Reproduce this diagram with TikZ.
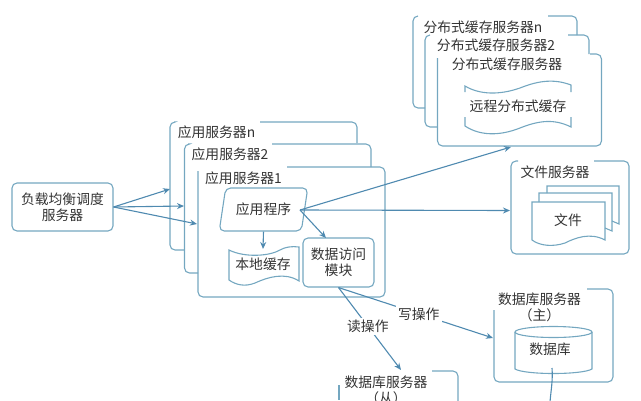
\documentclass[tikz,border=0pt]{standalone}
\usepackage{xcolor}
\usepackage{fontspec}
\setmainfont{Noto Sans CJK SC}
\definecolor{pale-line}{HTML}{74A7C0}
\definecolor{deep-line}{HTML}{4F8AB0}
\definecolor{ink}{HTML}{333333}
\usetikzlibrary{shapes.geometric}
\usetikzlibrary{arrows.meta}
\tikzset{box/.style = {draw=pale-line, rounded corners=5pt, line width=1.1pt, align=center, text centered, text=ink}}
\tikzset{txt/.style = {align=center, inner sep=0pt, text=ink}}
\tikzset{frame/.style = {draw=pale-line, line width=1.1pt, rounded corners=5pt}}
\tikzset{sheet/.style = {draw=pale-line, line width=1.1pt}}
\tikzset{arr/.style = {draw=deep-line, line width=1.1pt, -{Stealth[length=7pt, width=6pt]}}}

\begin{document}
\begin{tikzpicture}[x=1pt, y=-1pt,
  font=\fontsize{13.8}{16}\selectfont
]
\useasboundingbox (0,0) rectangle (641,400);
\clip (0,0) rectangle (641,400);

% load balancer and application servers
\node[box, minimum width=101pt, minimum height=48pt, inner sep=0pt] (lb) at (62.5,207) {负载均衡调度\\服务器};

\draw[frame] (174,122) -- (170,122) -- (170,250) -- (184,250);
\draw[frame] (260,122) -- (357,122) -- (357,143);
\node[txt] (appn) at (216.5,132) {应用服务器n};
\draw[frame] (188,144) -- (184.5,144) -- (184.5,273) -- (198,273);
\draw[frame] (272,144) -- (371,144) -- (371,167);
\node[txt] (app2) at (230,154) {应用服务器2};
\draw[frame] (198,171) -- (198,297) -- (385,297) -- (385,167) -- (287,167);
\node[txt] (app1) at (243.5,178) {应用服务器1};

\node[box, trapezium, trapezium left angle=70, trapezium right angle=110, trapezium stretches=true,
  minimum width=89pt, minimum height=43pt, inner sep=0pt] (prog) at (263.5,209.5) {应用程序};
\draw[sheet] (229,250) .. controls (245,258) and (270,256) .. (280,250)
  .. controls (285,247) and (292,246) .. (299,247) -- (299,281)
  .. controls (285,272) and (268,277) .. (255,283)
  .. controls (245,287) and (236,285) .. (229,280) -- cycle;
\node[txt] (local) at (263,264) {本地缓存};
\node[box, minimum width=71pt, minimum height=49pt, inner sep=0pt] (access) at (338.5,262.5) {数据访问\\模块};

% remote cache servers
\draw[frame] (418,16) -- (413,16) -- (413,108) -- (425,108);
\draw[frame] (548,16) -- (577,16) -- (577,35);
\node[txt] (cachen) at (483,27) {分布式缓存服务器n};
\draw[frame] (430,35) -- (425,35) -- (425,127) -- (437.5,127);
\draw[frame] (568,35) -- (589,35) -- (589,54);
\node[txt] (cache2) at (496,45) {分布式缓存服务器2};
\draw[frame] (437.5,58) -- (437.5,146) -- (601.5,146) -- (601.5,54) -- (590,54);
\node[txt] (cache1) at (507,64) {分布式缓存服务器};
\draw[sheet] (465,92) -- (465,86) .. controls (480,95) and (500,95) .. (520,88)
  .. controls (540,80) and (555,79) .. (571,85) -- (571,92);
\draw[sheet] (465,117) -- (465,126) .. controls (480,136) and (500,136) .. (520,128)
  .. controls (540,120) and (555,119) .. (571,127) -- (571,117);
\node[txt] (remote) at (518,106) {远程分布式缓存};

% file server
\draw[frame] (518,161) -- (511,161) -- (511,254) -- (629,254) -- (629,161) -- (594,161);
\node[txt] (filesrv) at (555,172) {文件服务器};
\draw[sheet] (547,193) -- (547,186) -- (619,186) -- (619,224) -- (612,221);
\draw[sheet] (539,202) -- (539,193) -- (612,193) -- (612,231) -- (605,228);
\draw[sheet] (532,202) -- (605,202) -- (605,240)
  .. controls (590,232) and (575,238) .. (565,243)
  .. controls (553,247) and (540,246) .. (532,240) -- cycle;
\node[txt] (file) at (568,220) {文件};

% database servers
\draw[frame] (494,310) -- (494,382) -- (613,382) -- (613,289) -- (587,289);
\node[txt] (mastersrv) at (539.5,307) {数据库服务器\\（主）};
\draw[sheet] (515,332) -- (515,369) .. controls (525,375) and (582,375) .. (592,369) -- (592,332);
\draw[sheet] (553.5,332) ellipse [x radius=38.5, y radius=5.5];
\node[txt] (db) at (550,349) {数据库};
\draw[frame] (339,385) -- (339,400);
\draw[frame] (432,371) -- (458,371) -- (458,405);
\node[txt] (slavesrv) at (386,390) {数据库服务器\\（从）};

% free ends on the open frames
\coordinate (in1) at (170,189);
\coordinate (in2) at (184,206);
\coordinate (in3) at (197,224);
\coordinate (progout) at (300,210);
\coordinate (cachein) at (511,147);
\coordinate (filein) at (510,210.5);
\coordinate (masterin) at (493,338);
\coordinate (slavein) at (401,370);
\coordinate (localin) at (263,249);
\coordinate (accessin) at (326,238);
\coordinate (dbout) at (552,368);
\coordinate (dbend) at (550,402);

\draw[arr] (lb.east) -- (in1);
\draw[arr] (lb.east) -- (in2);
\draw[arr] (lb.east) -- (in3);
\draw[arr] (progout) -- (cachein);
\draw[arr] (progout) -- (filein);
\draw[arr] (progout) -- (accessin);
\draw[arr] (prog.south) -- (localin);
\draw[arr] (access.south) -- (masterin) node[pos=.52, fill=white, txt, inner sep=2pt] (write) {写操作};
\draw[arr] (access.south) -- (slavein) node[pos=.47, fill=white, txt, inner sep=2pt] (read) {读操作};
\draw[draw=deep-line, line width=1.1pt] (dbout) .. controls (553,380) and (551,390) .. (dbend);

\end{tikzpicture}
\end{document}
